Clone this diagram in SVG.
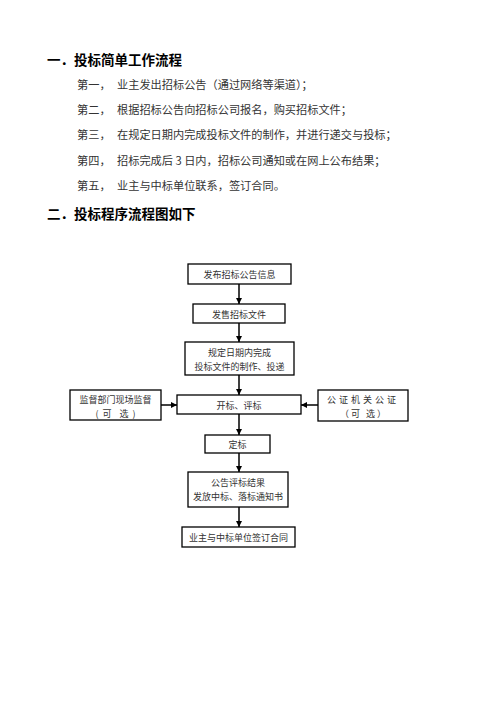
<svg xmlns="http://www.w3.org/2000/svg" width="496" height="702" viewBox="0 0 496 702">
<defs>
<marker id="ah" viewBox="0 0 10 10" refX="10" refY="5" markerWidth="4" markerHeight="4" orient="auto" markerUnits="strokeWidth">
<path d="M0,0 L10,5 L0,10 z" fill="#000"/>
</marker>
<style>
.h{font-family:"Noto Sans CJK SC","Liberation Sans",sans-serif;font-weight:bold;font-size:13.5px;fill:#000}
.b{font-family:"Noto Sans CJK SC","Liberation Serif",serif;font-size:11.2px;fill:#333}
.n rect{fill:#fff;stroke:#000;stroke-width:1.3}
.n text{font-family:"Noto Sans CJK SC","Liberation Serif",serif;font-size:9px;fill:#333;text-anchor:middle;dominant-baseline:central}
.c line{stroke:#000;stroke-width:1.5;marker-end:url(#ah)}
</style>
</defs>
<rect width="496" height="702" fill="#fff"/>
<text class="h" x="47" y="65">一．投标简单工作流程</text>
<text class="b" x="77" y="89">第一，</text><text class="b" x="117" y="89">业主发出招标公告（通过网络等渠道）；</text>
<text class="b" x="77" y="114">第二，</text><text class="b" x="117" y="114">根据招标公告向招标公司报名，购买招标文件；</text>
<text class="b" x="77" y="139">第三，</text><text class="b" x="117" y="139">在规定日期内完成投标文件的制作，并进行递交与投标；</text>
<text class="b" x="77" y="165">第四，</text><text class="b" x="117" y="165">招标完成后 3 日内，招标公司通知或在网上公布结果；</text>
<text class="b" x="77" y="190">第五，</text><text class="b" x="117" y="190">业主与中标单位联系，签订合同。</text>
<text class="h" x="47" y="219">二．投标程序流程图如下</text>

<g class="c">
<line x1="239" y1="284" x2="239" y2="304"/>
<line x1="239" y1="323" x2="239" y2="342"/>
<line x1="239" y1="375" x2="239" y2="395"/>
<line x1="239" y1="414" x2="239" y2="435"/>
<line x1="239" y1="453" x2="239" y2="472"/>
<line x1="239" y1="507" x2="239" y2="527"/>
<line x1="161" y1="405" x2="177" y2="405"/>
<line x1="318" y1="405" x2="301" y2="405"/>
</g>

<g class="n" id="n1"><rect x="188" y="264" width="103" height="20"/><text x="239.5" y="274.5">发布招标公告信息</text></g>
<g class="n" id="n2"><rect x="193" y="304" width="92" height="19"/><text x="239" y="314">发售招标文件</text></g>
<g class="n" id="n3"><rect x="185" y="342" width="109" height="33"/><text x="239.5" y="352">规定日期内完成</text><text x="239.5" y="366">投标文件的制作、投递</text></g>
<g class="n" id="n4"><rect x="177" y="395" width="124" height="19"/><text x="239" y="405">开标、评标</text></g>
<g class="n" id="n5"><rect x="70" y="390" width="91" height="30"/><text x="115.5" y="399">监督部门现场监督</text><text x="115.5" y="413" xml:space="preserve">(  可    选  )</text></g>
<g class="n" id="n6"><rect x="318" y="390" width="90" height="31"/><text x="363" y="399" letter-spacing="3">公证机关公证</text><text x="363" y="413" xml:space="preserve">（ 可   选 ）</text></g>
<g class="n" id="n7"><rect x="205" y="435" width="65" height="18"/><text x="237.5" y="444">定标</text></g>
<g class="n" id="n8"><rect x="188" y="472" width="100" height="35"/><text x="238" y="482.5">公告评标结果</text><text x="238" y="496.5">发放中标、落标通知书</text></g>
<g class="n" id="n9"><rect x="182" y="527" width="113" height="20"/><text x="238.5" y="537">业主与中标单位签订合同</text></g>
</svg>
